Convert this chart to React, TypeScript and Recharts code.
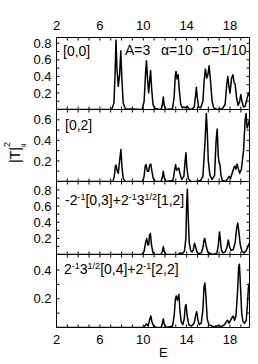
import React from 'react';
import { LineChart, Line, XAxis, YAxis } from 'recharts';

const FONT = '"Liberation Sans", Arial, Helvetica, sans-serif';

const xTicks = [2, 3, 4, 5, 6, 7, 8, 9, 10, 11, 12, 13, 14, 15, 16, 17, 18, 19];
const xTickLabels = [2, 6, 10, 14, 18];
const xDomain: [number, number] = [2, 19.8];

// [E, |T|^2] for panel [0,0]
const series00: [number, number][] = [
  [2, 0], [7.1, 0], [7.3, 0.08], [7.4, 0.42], [7.49, 0.84], [7.57, 0.5], [7.7, 0.28], [7.82, 0.42], [7.93, 0.71], [8.02, 0.4], [8.15, 0.08], [8.35, 0.01],
  [9.9, 0], [10.08, 0.1], [10.22, 0.45], [10.3, 0.59], [10.4, 0.36], [10.5, 0.2], [10.6, 0.36], [10.68, 0.47], [10.78, 0.24], [10.9, 0.06], [11.1, 0.01],
  [11.65, 0], [11.77, 0.06], [11.85, 0.15], [11.93, 0.05], [12.1, 0],
  [12.7, 0.01], [12.85, 0.15], [12.95, 0.4], [13.02, 0.46], [13.12, 0.37], [13.22, 0.42], [13.32, 0.24], [13.45, 0.07], [13.6, 0.02], [13.75, 0.03], [13.9, 0.02], [14.05, 0.04], [14.2, 0.01], [14.45, 0],
  [14.7, 0.03], [14.82, 0.16], [14.9, 0.27], [14.98, 0.15], [15.1, 0.03], [15.3, 0.02],
  [15.5, 0.1], [15.62, 0.35], [15.73, 0.49], [15.85, 0.38], [15.95, 0.41], [16.08, 0.53], [16.2, 0.35], [16.35, 0.1], [16.5, 0.02], [16.8, 0],
  [17.3, 0.01], [17.55, 0.06], [17.7, 0.3], [17.8, 0.4], [17.9, 0.28], [18.0, 0.2], [18.15, 0.38], [18.27, 0.42], [18.38, 0.33], [18.48, 0.3], [18.6, 0.15], [18.75, 0.05], [18.9, 0.1], [19.0, 0.18], [19.1, 0.1], [19.25, 0.03], [19.4, 0.04], [19.55, 0.12], [19.7, 0.2], [19.8, 0.17],
];

// panel [0,2]
const series02: [number, number][] = [
  [2, 0], [7.2, 0], [7.33, 0.05], [7.43, 0.15], [7.5, 0.16], [7.6, 0.1], [7.7, 0.08], [7.82, 0.2], [7.94, 0.31], [8.03, 0.15], [8.15, 0.03], [8.35, 0],
  [9.95, 0], [10.08, 0.05], [10.18, 0.15], [10.26, 0.165], [10.38, 0.1], [10.5, 0.1], [10.6, 0.16], [10.7, 0.17], [10.8, 0.1], [10.92, 0.03], [11.1, 0],
  [11.65, 0], [11.78, 0.05], [11.85, 0.1], [11.93, 0.04], [12.1, 0],
  [12.75, 0.01], [12.88, 0.1], [12.98, 0.165], [13.08, 0.11], [13.18, 0.12], [13.28, 0.13], [13.38, 0.08], [13.55, 0.02], [13.75, 0.05], [13.86, 0.2], [13.94, 0.28], [14.02, 0.14], [14.15, 0.03], [14.4, 0],
  [15.0, 0], [15.3, 0.01], [15.5, 0.05], [15.68, 0.35], [15.82, 0.66], [15.9, 0.5], [16.0, 0.2], [16.15, 0.06], [16.35, 0.02], [16.58, 0.06], [16.72, 0.4], [16.82, 0.51], [16.92, 0.25], [17.0, 0.18], [17.07, 0.17], [17.17, 0.06], [17.3, 0.01],
  [17.6, 0], [17.8, 0.03], [17.92, 0.05], [18.05, 0.03], [18.2, 0.08], [18.35, 0.13], [18.45, 0.15], [18.55, 0.12], [18.65, 0.17], [18.75, 0.13], [18.9, 0.08], [19.05, 0.12], [19.25, 0.3], [19.4, 0.6], [19.48, 0.66], [19.58, 0.52], [19.7, 0.56], [19.8, 0.6],
];

// panel -2^-1[0,3]+2^-1 3^1/2[1,2]
const series03: [number, number][] = [
  [2, 0], [9.9, 0], [10.08, 0.04], [10.22, 0.15], [10.32, 0.2], [10.42, 0.12], [10.5, 0.12], [10.58, 0.24], [10.66, 0.26], [10.76, 0.12], [10.9, 0.02], [11.1, 0],
  [11.65, 0], [11.77, 0.04], [11.85, 0.1], [11.93, 0.04], [12.1, 0],
  [13.2, 0], [13.4, 0.02], [13.6, 0.01], [13.8, 0.04], [13.93, 0.2], [14.0, 0.6], [14.07, 0.81], [14.14, 0.5], [14.24, 0.15], [14.37, 0.05], [14.5, 0.03], [14.62, 0.06], [14.73, 0.14], [14.82, 0.1], [14.95, 0.03], [15.1, 0.01],
  [15.35, 0.02], [15.5, 0.08], [15.6, 0.18], [15.68, 0.2], [15.78, 0.12], [15.95, 0.03], [16.2, 0.01], [16.5, 0], [16.8, 0.02], [16.93, 0.12], [17.03, 0.28], [17.1, 0.2], [17.2, 0.06], [17.35, 0.02],
  [17.55, 0.03], [17.7, 0.08], [17.85, 0.18], [17.95, 0.1], [18.1, 0.05], [18.3, 0.06], [18.48, 0.15], [18.62, 0.33], [18.72, 0.39], [18.82, 0.28], [18.95, 0.12], [19.1, 0.04], [19.3, 0.02], [19.5, 0.05], [19.65, 0.1], [19.8, 0.14],
];

// panel 2^-1 3^1/2[0,4]+2^-1[2,2]
const series04: [number, number][] = [
  [2, 0], [10.0, 0], [10.15, 0.01], [10.3, 0.025], [10.45, 0.01], [10.58, 0.05], [10.7, 0.08], [10.8, 0.04], [10.95, 0.01], [11.2, 0],
  [11.65, 0], [11.77, 0.03], [11.85, 0.06], [11.93, 0.025], [12.1, 0],
  [12.7, 0.01], [12.85, 0.08], [12.97, 0.2], [13.05, 0.22], [13.14, 0.19], [13.22, 0.21], [13.29, 0.23], [13.38, 0.12], [13.5, 0.04], [13.65, 0.02], [13.78, 0.06], [13.88, 0.15], [13.95, 0.16], [14.05, 0.08], [14.2, 0.02], [14.45, 0.01],
  [14.7, 0.03], [14.82, 0.08], [14.93, 0.11], [15.03, 0.06], [15.15, 0.02], [15.35, 0.03], [15.5, 0.12], [15.6, 0.28], [15.69, 0.31], [15.78, 0.22], [15.9, 0.06], [16.05, 0.02], [16.3, 0.01], [16.5, 0.005],
  [16.8, 0.01], [16.95, 0.015], [17.1, 0.005], [17.3, 0.01], [17.5, 0.02], [17.65, 0.04], [17.78, 0.05], [17.9, 0.03], [18.05, 0.05], [18.2, 0.07], [18.3, 0.08], [18.42, 0.05], [18.55, 0.08], [18.7, 0.25], [18.8, 0.42], [18.87, 0.44], [18.96, 0.3], [19.08, 0.1], [19.2, 0.04], [19.35, 0.03], [19.5, 0.05], [19.6, 0.15], [19.7, 0.28], [19.8, 0.31],
];

const yTicks1 = [0.1, 0.2, 0.3, 0.4, 0.5, 0.6, 0.7, 0.8];
const yTicks2 = [0.1, 0.2, 0.3, 0.4, 0.5, 0.6];
const yTicks3 = [0.1, 0.2, 0.3, 0.4, 0.5, 0.6, 0.7, 0.8];
const yTicks4 = [0.1, 0.2, 0.3, 0.4];

const fmtX = (v: number) => (xTickLabels.includes(v) ? String(v) : '');
const fmtY = (v: number) => (Math.round(v * 10) % 2 === 0 ? v.toFixed(1) : '');
const blank = () => '';

const tickStyle = { fill: '#000', fontSize: 13, fontFamily: FONT };

type PanelProps = {
  data: [number, number][];
  top: number;
  bottom: number;
  yMax: number;
  yTicks: number[];
  showTop: boolean;
  showBottom: boolean;
};

function Panel({ data, top, bottom, yMax, yTicks, showTop, showBottom }: PanelProps) {
  const rows = data.map(([e, t]) => ({ e, t }));
  return (
    <div style={{ position: 'absolute', left: 0, top: 0 }}>
      <LineChart
        width={258}
        height={364}
        data={rows}
        margin={{ top: top - 20, bottom: 344 - bottom, left: 16.5, right: 3.5 }}
      >
        <XAxis
          xAxisId="b"
          dataKey="e"
          type="number"
          domain={xDomain}
          allowDataOverflow
          ticks={xTicks}
          interval={0}
          orientation="bottom"
          height={20}
          tickSize={-3}
          tickMargin={10.5}
          tickFormatter={showBottom ? fmtX : blank}
          stroke="#000"
          tick={tickStyle}
        />
        <XAxis
          xAxisId="t"
          dataKey="e"
          type="number"
          domain={xDomain}
          allowDataOverflow
          ticks={xTicks}
          interval={0}
          orientation="top"
          height={20}
          tickSize={-3}
          tickMargin={10.5}
          tickFormatter={showTop ? fmtX : blank}
          stroke="#000"
          tick={tickStyle}
        />
        <YAxis
          yAxisId="l"
          type="number"
          domain={[0, yMax]}
          allowDataOverflow
          ticks={yTicks}
          interval={0}
          width={40}
          tickSize={-3}
          tickMargin={8}
          tickFormatter={fmtY}
          stroke="#000"
          tick={tickStyle}
        />
        <YAxis
          yAxisId="r"
          orientation="right"
          type="number"
          domain={[0, yMax]}
          allowDataOverflow
          ticks={yTicks}
          interval={0}
          width={5}
          tickSize={-3}
          tickFormatter={blank}
          stroke="#000"
          tick={tickStyle}
        />
        <Line
          xAxisId="b"
          yAxisId="l"
          dataKey="t"
          type="linear"
          stroke="#000"
          strokeWidth={1.5}
          strokeLinejoin="round"
          dot={false}
          isAnimationActive={false}
        />
      </LineChart>
    </div>
  );
}

const SUP = 9;

export default function App() {
  return (
    <div style={{ position: 'relative', width: 258, height: 364, background: '#fff', fontFamily: FONT }}>
      <style>{`body{margin:0}`}</style>
      <Panel data={series00} top={37.5} bottom={109.5} yMax={0.87} yTicks={yTicks1} showTop showBottom={false} />
      <Panel data={series02} top={109.5} bottom={181.5} yMax={0.7} yTicks={yTicks2} showTop={false} showBottom={false} />
      <Panel data={series03} top={181.5} bottom={254.5} yMax={0.905} yTicks={yTicks3} showTop={false} showBottom={false} />
      <Panel data={series04} top={254.5} bottom={327.5} yMax={0.508} yTicks={yTicks4} showTop={false} showBottom />
      <svg
        width={258}
        height={364}
        style={{ position: 'absolute', left: 0, top: 0, pointerEvents: 'none' }}
        fontFamily={FONT}
        fill="#000"
      >
        <text x={63} y={56} fontSize={14}>[0,0]</text>
        <text x={125} y={55} fontSize={14}>A=3</text>
        <text x={161} y={55} fontSize={14}>α=10</text>
        <text x={202.5} y={55} fontSize={14}>σ=1/10</text>
        <text x={65} y={129.5} fontSize={14}>[0,2]</text>
        <text x={65} y={204.5} fontSize={14}>
          -2<tspan dy={-5} fontSize={SUP}>-1</tspan>
          <tspan dy={5}>[0,3]+2</tspan>
          <tspan dy={-5} fontSize={SUP}>-1</tspan>
          <tspan dy={5}>3</tspan>
          <tspan dy={-5} fontSize={SUP}>1/2</tspan>
          <tspan dy={5}>[1,2]</tspan>
        </text>
        <text x={64} y={274} fontSize={14}>
          2<tspan dy={-5} fontSize={SUP}>-1</tspan>
          <tspan dy={5}>3</tspan>
          <tspan dy={-5} fontSize={SUP}>1/2</tspan>
          <tspan dy={5}>[0,4]+2</tspan>
          <tspan dy={-5} fontSize={SUP}>-1</tspan>
          <tspan dy={5}>[2,2]</tspan>
        </text>
        <g transform="translate(20,163) rotate(-90)">
          <text x={0} y={0} fontSize={14}>|T|</text>
          <text x={16} y={-10} fontSize={9}>2</text>
          <text x={16} y={6} fontSize={8}>ii</text>
        </g>
        <text x={163.3} y={356.5} fontSize={13} textAnchor="middle">E</text>
      </svg>
    </div>
  );
}
